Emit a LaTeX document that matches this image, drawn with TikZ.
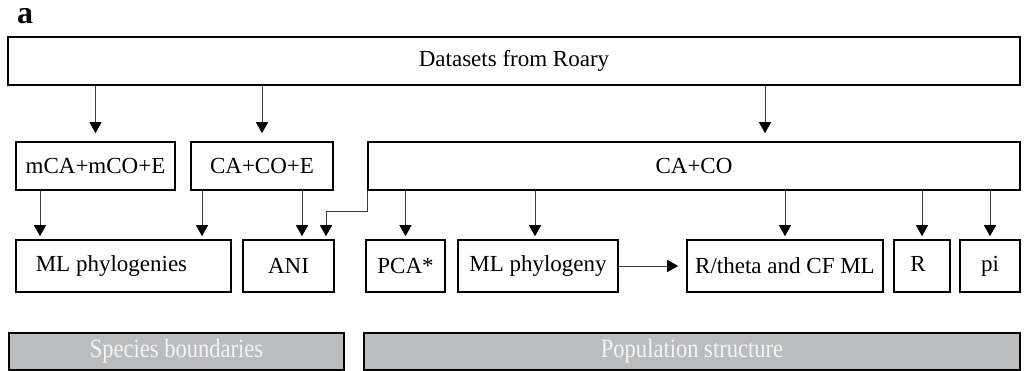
\documentclass[tikz,border=0pt]{standalone}
\usepackage{fontspec}
\setmainfont{Liberation Serif}
\usepackage{xcolor}
\usetikzlibrary{arrows.meta}
\definecolor{bargray}{HTML}{BBBCBE}
\definecolor{linegray}{HTML}{3C3C3C}
\tikzset{
  ar/.style={-{Triangle[length=11pt,width=12pt,black]},line width=0.9pt,linegray,shorten >=3pt},
  box/.style={draw=black,line width=1.6pt,inner sep=0pt,font=\fontsize{23}{27}\selectfont},
  bar/.style={draw=black,line width=2pt,fill=bargray,text=white!92!gray,inner sep=0pt,
    minimum height=37pt,font=\fontsize{23}{27}\selectfont}
}
\begin{document}
\begin{tikzpicture}[x=1pt,y=-1pt]
\useasboundingbox (0,0) rectangle (1025,371);
\node[font=\fontsize{32}{34}\selectfont\bfseries] (lbl) at (25,16) {a};
% top row
\node[box,minimum width=1012pt,minimum height=48pt] (roary) at (514,61) {Datasets from Roary};
% middle row
\node[box,minimum width=159pt,minimum height=48pt] (mce) at (95.5,166) {mCA+mCO+E};
\node[box,minimum width=142pt,minimum height=48pt] (ce) at (262,166) {CA+CO+E};
\node[box,minimum width=652pt,minimum height=48pt] (cc) at (694,166) {CA+CO};
% bottom row
\node[box,minimum width=215pt,minimum height=52pt] (mlphy) at (123.5,266) {\hspace*{-24pt}ML phylogenies};
\node[box,minimum width=91pt,minimum height=52pt] (ani) at (288.5,266) {ANI};
\node[box,minimum width=79pt,minimum height=52pt] (pca) at (405.5,266) {PCA*};
\node[box,minimum width=160pt,minimum height=52pt] (mlone) at (538,266) {ML phylogeny};
\node[box,minimum width=196pt,minimum height=52pt] (rtheta) at (785,266) {R/theta and CF ML};
\node[box,minimum width=56pt,minimum height=52pt] (rr) at (922,266) {\raisebox{4pt}{R}\hspace*{8pt}};
\node[box,minimum width=60pt,minimum height=52pt] (pi) at (990,266) {\raisebox{-3pt}{pi}};
% category bars
\node[bar,minimum width=335pt] (spec) at (176.5,351.5) {\scalebox{0.98}[1.15]{Species boundaries}};
\node[bar,minimum width=656pt] (pop) at (692,351.5) {\scalebox{0.98}[1.15]{Population structure}};
% arrows
\draw[ar,shorten >=8pt] (roary.south -| mce.north) -- (mce.north);
\draw[ar,shorten >=8pt] (roary.south -| ce.north) -- (ce.north);
\draw[ar,shorten >=8pt] ([xshift=71pt]cc.north |- roary.south) -- ([xshift=71pt]cc.north);
\draw[ar] ([xshift=-55.5pt]mce.south) -- ([xshift=-55.5pt]mce.south |- mlphy.north);
\draw[ar] ([xshift=-60pt]ce.south) -- ([xshift=-60pt]ce.south |- mlphy.north);
\draw[ar] ([xshift=40pt]ce.south) -- ([xshift=40pt]ce.south |- ani.north);
\draw[ar] (cc.south west) -- ++(0,21) -| ([xshift=37.5pt]ani.north);
\draw[ar] (pca.north |- cc.south) -- (pca.north);
\draw[ar] ([xshift=-3pt]mlone.north |- cc.south) -- ([xshift=-3pt]mlone.north);
\draw[ar] (rtheta.north |- cc.south) -- (rtheta.north);
\draw[ar] (rr.north |- cc.south) -- (rr.north);
\draw[ar] (pi.north |- cc.south) -- (pi.north);
\draw[ar,shorten >=8pt] (mlone.east) -- (rtheta.west);
\end{tikzpicture}
\end{document}
